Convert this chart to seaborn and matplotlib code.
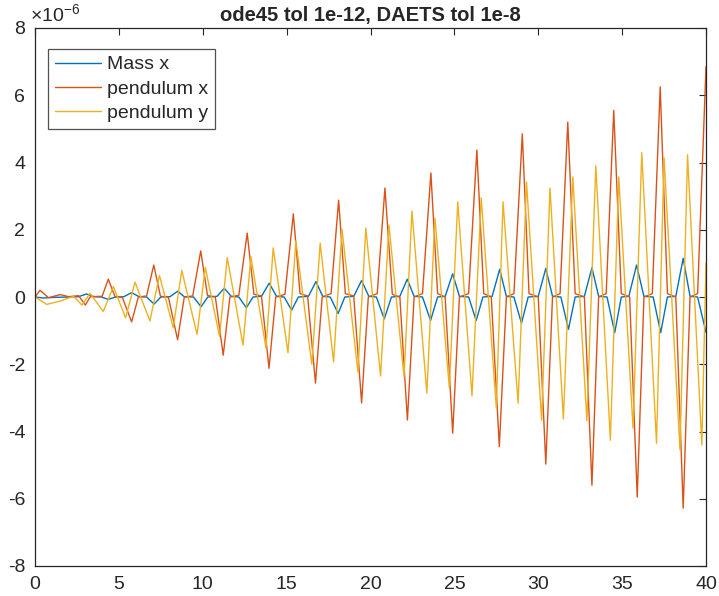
import numpy as np
import pandas as pd
import matplotlib
matplotlib.use("Agg")
import matplotlib.pyplot as plt
import seaborn as sns

# values (units of 1e-6)
# Mass x: extrema and near-zero flats
mass_t = [0.0, 0.5, 1.2, 2.0, 2.6, 3.08, 3.5, 3.95, 4.37, 4.8, 5.3, 5.76, 6.2, 6.65, 7.1, 7.5, 8.05, 8.5,
          8.9, 9.45, 9.9, 10.3, 10.85, 11.28, 11.7, 12.15, 12.6, 13.0, 13.5, 13.96, 14.4, 14.85, 15.3,
          15.7, 16.3, 16.75, 17.15, 17.6, 18.07, 18.47, 19.0, 19.47, 19.9, 20.35, 20.82, 21.25, 21.75,
          22.19, 22.6, 23.1, 23.58, 24.0, 24.45, 24.9, 25.3, 25.85, 26.3, 26.7, 27.25, 27.7, 28.1, 28.55,
          29.0, 29.4, 30.0, 30.45, 30.85, 31.35, 31.8, 32.2, 32.75, 33.2, 33.6, 34.1, 34.56, 34.95, 35.4,
          35.86, 36.3, 36.85, 37.3, 37.7, 38.2, 38.64, 39.05, 39.5, 40.0]
mass_v = [0.0, -0.03, -0.01, 0.0, 0.01, 0.09, 0.01, 0.0, -0.07, 0.0, 0.01, 0.13, 0.01, 0.0, -0.21, 0.0, 0.01, 0.17,
          0.01, 0.0, -0.29, 0.0, 0.02, 0.26, 0.02, 0.0, -0.32, 0.0, 0.02, 0.41, 0.02, 0.0, -0.39,
          0.0, 0.02, 0.46, 0.02, 0.0, -0.49, 0.0, 0.02, 0.49, 0.02, 0.0, -0.65, 0.0, 0.02,
          0.53, 0.02, 0.0, -0.70, 0.0, 0.02, 0.69, 0.02, 0.0, -0.70, 0.0, 0.02, 0.82, 0.02, 0.0,
          -0.78, 0.0, 0.02, 0.85, 0.02, 0.0, -0.96, 0.0, 0.02, 0.87, 0.02, 0.0, -1.06, 0.0, 0.02,
          0.95, 0.02, 0.0, -1.06, 0.0, 0.02, 1.15, 0.02, 0.0, -1.05]

# pendulum x
pend_x_t = [0.0, 0.3, 0.8, 1.5, 2.0, 2.6, 3.0, 3.3, 4.0, 4.37, 4.77, 5.2, 5.76, 6.16, 6.65, 7.08, 7.48, 7.95,
            8.5, 8.9, 9.4, 9.88, 10.28, 10.75, 11.22, 11.62, 12.15, 12.65, 13.05, 13.5, 13.95, 14.35, 14.9,
            15.4, 15.8, 16.25, 16.72, 17.12, 17.65, 18.1, 18.5, 19.0, 19.47, 19.87, 20.4, 20.86, 21.3, 21.75,
            22.2, 22.6, 23.1, 23.6, 24.0, 24.45, 24.9, 25.3, 25.85, 26.34, 26.75, 27.2, 27.68, 28.1, 28.55,
            29.05, 29.45, 30.0, 30.45, 30.85, 31.3, 31.76, 32.2, 32.75, 33.2, 33.6, 34.05, 34.5, 34.95,
            35.45, 35.9, 36.3, 36.8, 37.27, 37.7, 38.2, 38.64, 39.05, 39.5, 40.0]
pend_x_v = [0.0, 0.2, -0.02, 0.07, 0.01, 0.04, -0.24, 0.01, 0.02, 0.53, 0.01, 0.0, -0.74, 0.0, 0.03, 0.95, 0.02, 0.0,
            -1.27, 0.0, 0.03, 1.37, 0.05, 0.0, -1.73, 0.0, 0.05, 1.90, 0.08, 0.03, -2.12, 0.0, 0.08,
            2.47, 0.1, 0.03, -2.56, 0.0, 0.1, 2.88, 0.1, 0.03, -3.15, 0.0, 0.1, 3.24, 0.08, 0.0,
            -3.66, 0.0, 0.1, 3.69, 0.1, 0.0, -4.05, 0.0, 0.1, 4.37, 0.1, 0.0, -4.45, 0.0, 0.1,
            4.85, 0.1, 0.0, -4.97, 0.0, 0.1, 5.20, 0.1, 0.0, -5.60, 0.0, 0.1, 5.55, 0.1,
            0.0, -5.95, 0.0, 0.1, 6.25, 0.1, 0.0, -6.28, 0.0, 0.1, 6.85]

# pendulum y
pend_y_t = [0.0, 0.7, 1.5, 2.3, 2.8, 3.28, 4.07, 4.67, 5.4, 5.96, 6.85, 7.42, 8.24, 8.75, 9.66, 10.15,
            11.0, 11.46, 12.4, 12.87, 13.77, 14.2, 15.08, 15.55, 16.5, 17.0, 17.8, 18.3, 19.25, 19.72,
            20.6, 21.1, 22.0, 22.47, 23.36, 23.84, 24.7, 25.2, 26.05, 26.6, 27.5, 27.9, 28.8, 29.3,
            30.2, 30.7, 31.5, 32.06, 32.9, 33.43, 34.3, 34.8, 35.65, 36.17, 37.05, 37.5, 38.45, 38.9,
            39.75, 40.0]
pend_y_v = [0.0, -0.22, -0.12, 0.02, -0.24, 0.11, -0.43, 0.31, -0.62, 0.44, -0.71, 0.64, -0.91, 0.79, -1.11, 0.88,
            -1.17, 1.17, -1.43, 1.20, -1.52, 1.46, -1.66, 1.67, -2.0, 1.60, -1.93, 2.02, -2.23, 2.05,
            -2.35, 2.14, -2.38, 2.56, -2.86, 2.35, -2.70, 2.83, -2.94, 2.95, -3.30, 2.83, -3.16, 3.42,
            -3.66, 3.24, -3.63, 3.57, -3.68, 3.90, -4.26, 3.57, -3.90, 4.29, -4.35, 4.14, -4.55, 4.23,
            -4.40, 1.0]

series_names = ["Mass x", "pendulum x", "pendulum y"]
colors = {"Mass x": "#0072BD", "pendulum x": "#D95319", "pendulum y": "#EDB120"}

df = pd.concat([
    pd.DataFrame({"t": mass_t, "v": mass_v, "series": "Mass x"}),
    pd.DataFrame({"t": pend_x_t, "v": pend_x_v, "series": "pendulum x"}),
    pd.DataFrame({"t": pend_y_t, "v": pend_y_v, "series": "pendulum y"}),
], ignore_index=True)

sns.set_style("white")
plt.rcParams["font.family"] = ["Liberation Sans", "DejaVu Sans"]
plt.rcParams["axes.unicode_minus"] = False
plt.rcParams["mathtext.fontset"] = "custom"
plt.rcParams["mathtext.rm"] = "Liberation Sans"

fig = plt.figure(figsize=(7.19, 5.96), dpi=100)
ax = fig.add_axes([35 / 719, 1 - 566 / 596, 671 / 719, 538 / 596])

sns.lineplot(data=df, x="t", y="v", hue="series", hue_order=series_names, palette=colors,
             estimator=None, sort=False, linewidth=1.0, ax=ax)

ax.set_xlim(0, 40)
ax.set_ylim(-8, 8)
ax.set_xticks(np.arange(0, 41, 5))
ax.set_yticks(np.arange(-8, 9, 2))
ax.set_xlabel("")
ax.set_ylabel("")
for s in ax.spines.values():
    s.set_visible(True)
    s.set_color("#262626")
    s.set_linewidth(0.9)
ax.tick_params(direction="in", top=True, right=True, length=5, width=0.8,
               color="#262626", labelsize=14, pad=7, labelcolor="#262626")

ax.set_title("ode45 tol 1e-12, DAETS tol 1e-8", fontsize=14.5, fontweight="bold", pad=5)
ax.text(-0.008, 1.004, r"$\times10^{-6}$", transform=ax.transAxes, ha="left", va="bottom",
        fontsize=14, color="#262626")

handles, labels = ax.get_legend_handles_labels()
leg = ax.legend(handles, labels, loc="upper left", bbox_to_anchor=(0.019, 0.961), borderaxespad=0,
                fontsize=14, frameon=True, fancybox=False, handlelength=2.4, handletextpad=0.3,
                labelspacing=0.35, borderpad=0.35)
leg.get_frame().set_edgecolor("#262626")
leg.get_frame().set_linewidth(0.9)

fig.savefig("out.png", dpi=100)
